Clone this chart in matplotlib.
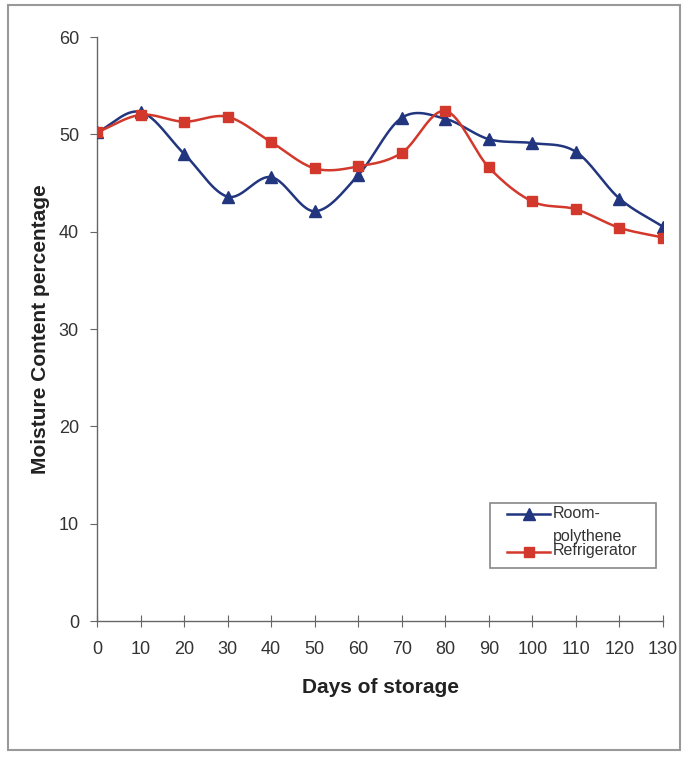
import numpy as np
import matplotlib
matplotlib.use("Agg")
import matplotlib.pyplot as plt
from matplotlib.patches import Rectangle
from matplotlib.lines import Line2D

plt.rcParams['font.family'] = ['Liberation Sans', 'DejaVu Sans']

days = [0, 10, 20, 30, 40, 50, 60, 70, 80, 90, 100, 110, 120, 130]
room_polythene = [50.2, 52.3, 48.0, 43.6, 45.6, 42.1, 45.8, 51.7, 51.6, 49.5, 49.1, 48.2, 43.4, 40.5]
refrigerator = [50.2, 52.0, 51.3, 51.8, 49.2, 46.5, 46.7, 48.1, 52.4, 46.6, 43.1, 42.3, 40.4, 39.4]
series_names = ["Room-\npolythene", "Refrigerator"]
x_ticks = list(range(0, 131, 10))
y_ticks = list(range(0, 61, 10))


def smooth(x, y, n=30):
    # Catmull-Rom style smoothing (like spreadsheet "smoothed line")
    x = np.asarray(x, float)
    y = np.asarray(y, float)
    px = np.concatenate([[2 * x[0] - x[1]], x, [2 * x[-1] - x[-2]]])
    py = np.concatenate([[2 * y[0] - y[1]], y, [2 * y[-1] - y[-2]]])
    xs, ys = [], []
    t = np.linspace(0, 1, n, endpoint=False)
    for i in range(1, len(px) - 2):
        p0, p1, p2, p3 = [np.array([px[j], py[j]]) for j in (i - 1, i, i + 1, i + 2)]
        tt = t[:, None]
        pts = 0.5 * ((2 * p1) + (-p0 + p2) * tt + (2 * p0 - 5 * p1 + 4 * p2 - p3) * tt ** 2
                     + (-p0 + 3 * p1 - 3 * p2 + p3) * tt ** 3)
        xs.extend(pts[:, 0])
        ys.extend(pts[:, 1])
    xs.append(x[-1])
    ys.append(y[-1])
    return np.array(xs), np.array(ys)


W, H = 688, 764
fig = plt.figure(figsize=(W / 100, H / 100), dpi=100)
ax = fig.add_axes([97 / W, 1 - 621 / H, (663 - 97) / W, (621 - 37) / H])

blue = "#22357f"
red = "#d2382b"
styles = [(room_polythene, blue, "^", 8.5), (refrigerator, red, "s", 7.5)]

for vals, col, mk, ms in styles:
    sx, sy = smooth(days, vals)
    ax.plot(sx, sy, color=col, lw=1.8, zorder=2)
    ax.plot(days, vals, ls="none", marker=mk, color=col, ms=ms, zorder=3)

ax.set_xlim(0, 130)
ax.set_ylim(0, 60)
ax.set_xticks(x_ticks)
ax.set_yticks(y_ticks)
ax.spines['top'].set_visible(False)
ax.spines['right'].set_visible(False)
for s in ('left', 'bottom'):
    ax.spines[s].set_color("#666666")
    ax.spines[s].set_linewidth(1.0)
ax.tick_params(axis='x', direction='inout', length=8, colors="#666666", labelcolor="#333333",
               labelsize=13, pad=10.5)
ax.tick_params(axis='y', direction='out', length=5, colors="#666666", labelcolor="#333333",
               labelsize=13, pad=8)
ax.set_xlabel("Days of storage", fontsize=15, fontweight='bold', color="#222222", labelpad=14)
ax.set_ylabel("Moisture Content percentage", fontsize=15, fontweight='bold', color="#222222",
              labelpad=6)

# legend drawn in figure pixel coordinates (box, handles, labels)
def fx(px):
    return px / W


def fy(py):
    return 1 - py / H


fig.patches.append(Rectangle((fx(490), fy(568)), fx(656) - fx(490), fy(503) - fy(568),
                             transform=fig.transFigure, fill=False, edgecolor="#888888", lw=1.2))
row_y = [514, 552]
for (vals, col, mk, ms), ry in zip(styles, row_y):
    fig.lines.append(Line2D([fx(507), fx(550)], [fy(ry), fy(ry)], transform=fig.transFigure,
                            color=col, lw=1.8))
    fig.lines.append(Line2D([fx(528.5)], [fy(ry)], transform=fig.transFigure, color=col,
                            marker=mk, ms=ms, ls="none"))
room_lines = series_names[0].split("\n")
fig.text(fx(553), fy(514), room_lines[0], fontsize=11.5, color="#333333", va='center', ha='left')
fig.text(fx(553), fy(537), room_lines[1], fontsize=11.5, color="#333333", va='center', ha='left')
fig.text(fx(553), fy(551), series_names[1], fontsize=11.5, color="#333333", va='center', ha='left')

fig.patches.append(Rectangle((0.012, 0.018), 0.976, 0.975, transform=fig.transFigure,
                             fill=False, edgecolor="#999999", lw=1.5))

fig.savefig("out.png", dpi=100)
